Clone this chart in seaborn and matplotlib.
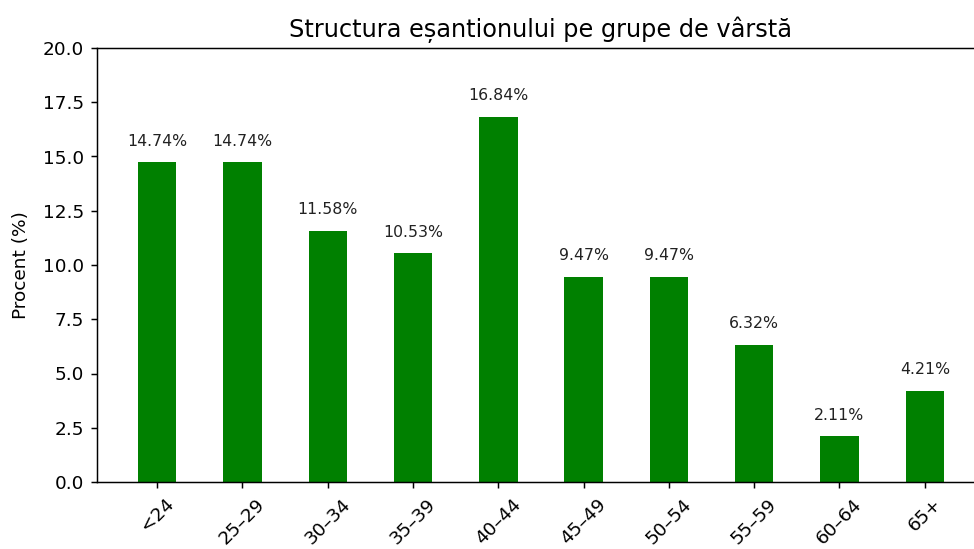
import matplotlib
matplotlib.use("Agg")
import matplotlib.pyplot as plt
import seaborn as sns
import pandas as pd

categories = ["<24", "25–29", "30–34", "35–39", "40–44", "45–49", "50–54", "55–59", "60–64", "65+"]
percentages = [14.74, 14.74, 11.58, 10.53, 16.84, 9.47, 9.47, 6.32, 2.11, 4.21]
title = "Structura eșantionului pe grupe de vârstă"
ylabel = "Procent (%)"
yticks = [0.0, 2.5, 5.0, 7.5, 10.0, 12.5, 15.0, 17.5, 20.0]

df = pd.DataFrame({"grupa": categories, "procent": percentages})

DPI = 133
fig = plt.figure(figsize=(974 / DPI, 549 / DPI), dpi=DPI)
ax = fig.add_axes([97 / 974, 1 - 482 / 549, (984.5 - 97) / 974, (482 - 48) / 549])

sns.barplot(data=df, x="grupa", y="procent", color="green", saturation=1,
            width=0.45, ax=ax, order=categories)

for i, v in enumerate(percentages):
    ax.text(i, v + 0.62, f"{v:.2f}%", ha="center", va="bottom", fontsize=8.5,
            color="#222222")

ax.set_xlim(-0.705, 9.7)
ax.set_ylim(0, 20)
ax.set_yticks(yticks)
ax.set_yticklabels([f"{t:.1f}" for t in yticks])
ax.set_xlabel("")
ax.set_ylabel(ylabel, labelpad=7)
ax.set_title(title, fontsize=13)
plt.setp(ax.get_xticklabels(), rotation=45)

fig.savefig("out.png", dpi=DPI)
